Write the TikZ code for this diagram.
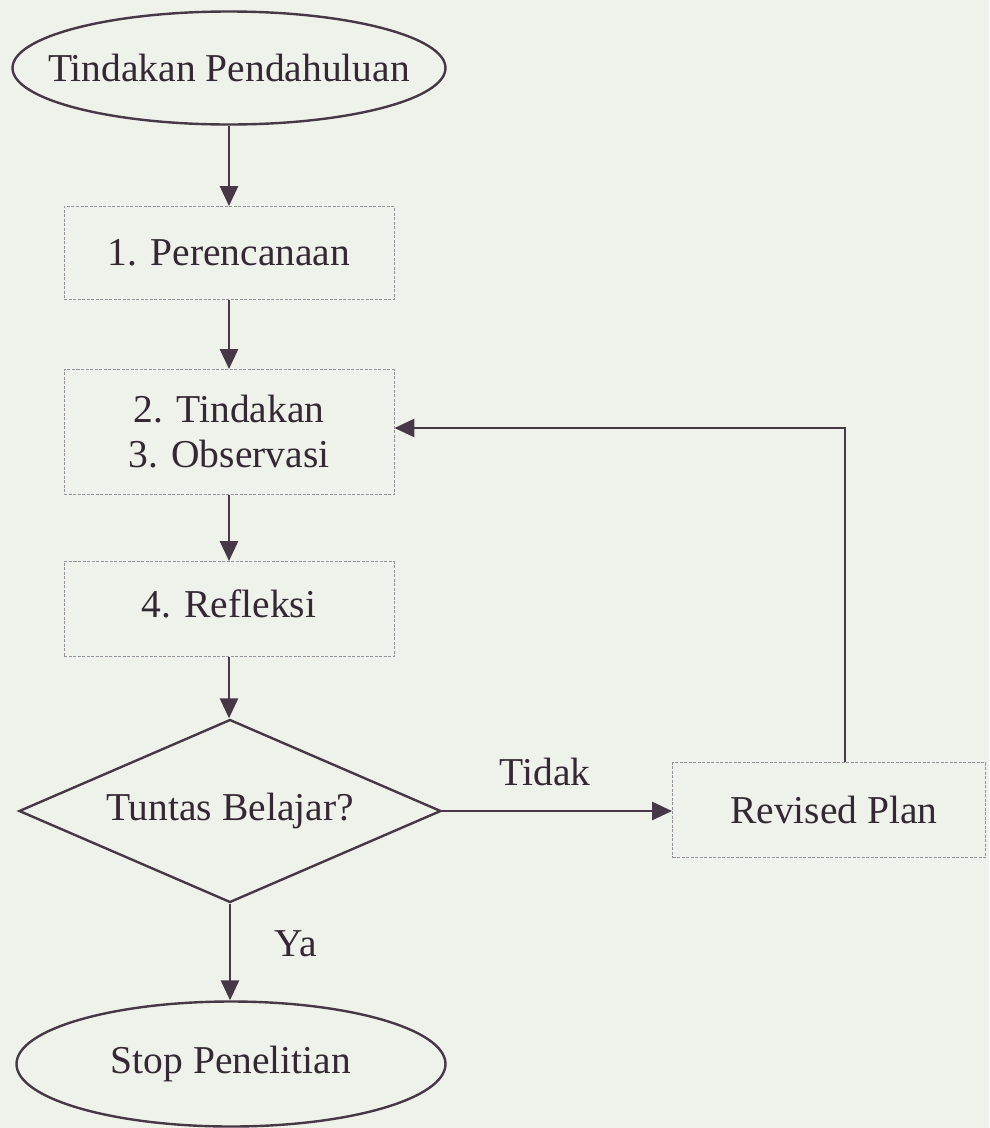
\documentclass[tikz,border=0pt]{standalone}
\usepackage{fontspec}
\setmainfont{Liberation Serif}
\usetikzlibrary{shapes.geometric,arrows.meta,calc}
\definecolor{bgc}{RGB}{238,242,234}
\definecolor{linec}{RGB}{70,56,70}
\definecolor{textc}{RGB}{52,40,52}
\definecolor{boxc}{RGB}{150,145,150}
\tikzset{
  lbl/.style={text=textc,font=\fontsize{39.5}{45}\selectfont,align=center},
  oval/.style={lbl,ellipse,draw=linec,line width=2.4pt,inner xsep=-30pt,inner ysep=0pt},
  stepbox/.style={lbl,rectangle,draw=boxc,line width=0.9pt,dash pattern=on 3pt off 1.5pt,inner sep=0pt},
  decide/.style={lbl,diamond,draw=linec,line width=2.4pt,inner sep=0pt,shape aspect=2.3},
  conn/.style={draw=linec,line width=2.8pt,-{Triangle[length=20pt,width=18pt]}},
  plain/.style={draw=linec,line width=2.8pt},
}
\begin{document}
\begin{tikzpicture}[x=1pt,y=-1pt]
\fill[bgc] (0,0) rectangle (989,1128);
\useasboundingbox (0,0) rectangle (989,1128);
\node[oval,minimum width=433pt,minimum height=113pt] (start) at (229,68) {Tindakan Pendahuluan};
\node[stepbox,minimum width=330pt,minimum height=93pt] (b1) at (229,253) {1. Perencanaan};
\node[stepbox,minimum width=330pt,minimum height=125pt] (b2) at (229,432) {2. Tindakan\\3. Observasi};
\node[stepbox,minimum width=330pt,minimum height=95pt] (b3) at (229,609) {\raisebox{10pt}{4. Refleksi}};
\node[decide,minimum width=422pt,minimum height=183pt] (d) at (230,811) {Tuntas Belajar?};
\node[stepbox,minimum width=313pt,minimum height=95pt] (rp) at (829,810) {\hspace*{10pt}Revised Plan};
\node[oval,minimum width=429pt,minimum height=125pt] (stop) at (231,1064) {Stop Penelitian};
\node[lbl] (tidak) at (545,772) {Tidak};
\node[lbl] (ya) at (296,944) {Ya};
\coordinate (c1) at (845,428);
\draw[conn] (start.south) -- (b1.north);
\draw[conn] (b1.south) -- (b2.north);
\draw[conn] (b2.south) -- (b3.north);
\draw[conn] (b3.south) -- (b3.south |- d.north);
\draw[conn] (d.east) -- (d.east -| rp.west);
\draw[conn] (d.south) -- (d.south |- stop.north);
\draw[plain,-{Triangle[length=20pt,width=18pt]}] (rp.north -| c1) -- (c1) -- (b2.east |- c1);
\end{tikzpicture}
\end{document}
